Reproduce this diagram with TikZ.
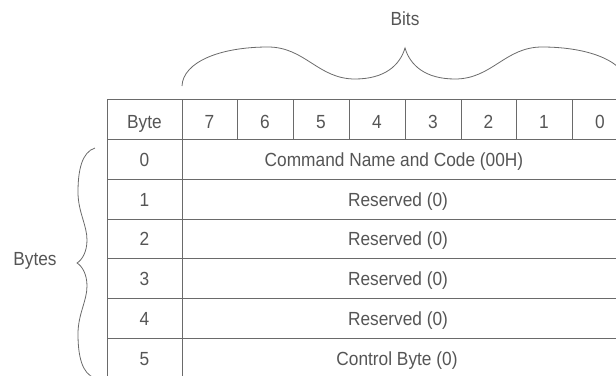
\documentclass[tikz,border=0pt]{standalone}
\usepackage{fontspec}
\setmainfont[FakeStretch=0.91]{Liberation Sans}
\definecolor{linec}{HTML}{6A6A6A}
\definecolor{textc}{HTML}{555555}
\begin{document}
\begin{tikzpicture}[x=1pt,y=-1pt,
  grid/.style={draw=linec,line width=0.9pt},
  bracec/.style={draw=linec,line width=0.8pt},
  lbl/.style={text=textc,font=\fontsize{19}{21}\selectfont,inner sep=0pt,anchor=base}]
\useasboundingbox (0,0) rectangle (616,375);
\clip (0,0) rectangle (616,375);
% table grid
\draw[grid] (107,99) rectangle (628,378);
\foreach \y in {139,179,219,258,298,338} \draw[grid] (107,\y) -- (628,\y);
\draw[grid] (182,99) -- (182,378);
\foreach \x in {237,293,349,405,461,516,572} \draw[grid] (\x,99) -- (\x,139);
% header
\node[lbl] (hbyte) at (144.5,128.5) {Byte};
\node[lbl] (b7) at (209.5,128.5) {7};
\node[lbl] (b6) at (265,128.5) {6};
\node[lbl] (b5) at (321,128.5) {5};
\node[lbl] (b4) at (377,128.5) {4};
\node[lbl] (b3) at (433,128.5) {3};
\node[lbl] (b2) at (488.5,128.5) {2};
\node[lbl] (b1) at (544,128.5) {1};
\node[lbl] (b0) at (600,128.5) {0};
% rows
\node[lbl] (r0) at (144.5,166) {0};
\node[lbl] (r1) at (144.5,206) {1};
\node[lbl] (r2) at (144.5,245.5) {2};
\node[lbl] (r3) at (144.5,285) {3};
\node[lbl] (r4) at (144.5,325) {4};
\node[lbl] (r5) at (144.5,365) {5};
\node[lbl] (c0) at (394,166) {Command Name and Code (00H)};
\node[lbl] (c1) at (398,206) {Reserved (0)};
\node[lbl] (c2) at (398,245.5) {Reserved (0)};
\node[lbl] (c3) at (398,285) {Reserved (0)};
\node[lbl] (c4) at (398,325) {Reserved (0)};
\node[lbl] (c5) at (397,365) {Control Byte (0)};
% labels
\node[lbl] (bits) at (405,25) {Bits};
\node[lbl] (bytes) at (35,265) {Bytes};
% top brace
\draw[bracec] (182,86) .. controls (183,62) and (220,47) .. (268,47)
  .. controls (305,47) and (318,79) .. (355,79)
  .. controls (385,79) and (400,65) .. (405,48)
  .. controls (410,65) and (425,79) .. (455,79)
  .. controls (492,79) and (505,47) .. (542,47)
  .. controls (590,47) and (627,62) .. (628,86);
% left brace
\draw[bracec] (95,148) .. controls (82,152) and (78,170) .. (78,192)
  .. controls (78,212) and (87,225) .. (87,240)
  .. controls (87,252) and (82,260) .. (77,263)
  .. controls (82,266) and (87,274) .. (87,286)
  .. controls (87,301) and (78,314) .. (78,334)
  .. controls (78,356) and (82,374) .. (95,378);
\end{tikzpicture}
\end{document}
